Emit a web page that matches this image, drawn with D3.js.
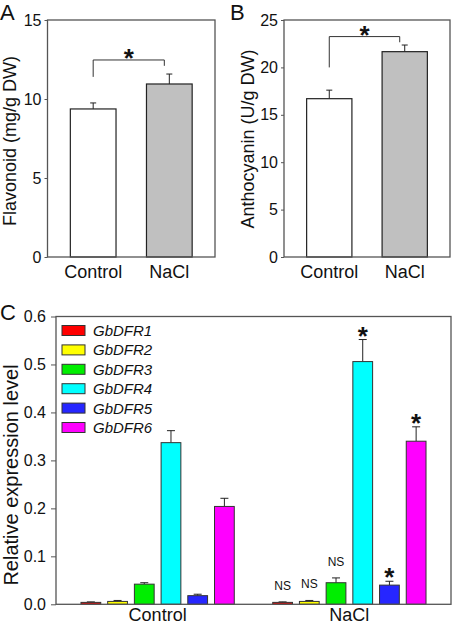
<!DOCTYPE html>
<html>
<head>
<meta charset="utf-8">
<script src="https://cdn.jsdelivr.net/npm/d3@7"></script>
<style>
  body { margin: 0; background: #fff; }
  text { font-family: "Liberation Sans", Arial, sans-serif; fill: #111; }
</style>
</head>
<body>
<div id="wrapper"></div>
<script>
// data
const treatments = ["Control", "NaCl"];

const flavonoidMeans = [9.37, 10.95];
const flavonoidErrors = [0.38, 0.63];
const flavonoidTicks = [0, 5, 10, 15];
// left leg end, bracket top, right leg end (in mg/g DW)
const flavonoidBracket = [11.4, 12.47, 12.1];

const anthocyaninMeans = [16.7, 21.66];
const anthocyaninErrors = [0.9, 0.7];
const anthocyaninTicks = [0, 5, 10, 15, 20, 25];
const anthocyaninBracket = [20.0, 23.25, 22.65];

const genes = ["GbDFR1", "GbDFR2", "GbDFR3", "GbDFR4", "GbDFR5", "GbDFR6"];
const controlExpr = [0.004, 0.006, 0.042, 0.337, 0.018, 0.204];
const controlErr  = [0.001, 0.002, 0.003, 0.025, 0.003, 0.017];
const naclExpr    = [0.004, 0.006, 0.045, 0.506, 0.040, 0.340];
const naclErr     = [0.001, 0.002, 0.010, 0.046, 0.008, 0.030];
const naclMarks   = ["NS", "NS", "NS", "*", "*", "*"];
const exprTicks   = [0, 0.1, 0.2, 0.3, 0.4, 0.5, 0.6];

// styles
const geneColors = ["#ff0000", "#ffff00", "#00ee00", "#00ffff", "#2626ff", "#ff00ff"];
const barFills = ["#ffffff", "#c0c0c0"];

const svg = d3.select("#wrapper")
  .append("svg")
  .attr("width", 452)
  .attr("height", 625);

// panels A and B share a layout
const drawSimplePanel = (opts) => {
  const dims = opts.dims;
  const g = svg.append("g")
    .attr("transform", `translate(${dims.left},${dims.top})`);
  const w = dims.right - dims.left;
  const h = dims.bottom - dims.top;

  const xScale = d3.scaleBand()
    .domain(treatments)
    .range([0, w])
    .paddingInner(0.4)
    .paddingOuter(0.3);

  const yScale = d3.scaleLinear()
    .domain([0, d3.max(opts.ticks)])
    .range([h, 0]);

  const data = treatments.map((t, i) => ({ t, v: opts.means[i], e: opts.errors[i], i }));

  // error bars (upper only)
  const err = g.append("g").selectAll("g").data(data).join("g");
  err.append("line")
    .attr("x1", d => xScale(d.t) + xScale.bandwidth() / 2)
    .attr("x2", d => xScale(d.t) + xScale.bandwidth() / 2)
    .attr("y1", d => yScale(d.v))
    .attr("y2", d => yScale(d.v + d.e))
    .attr("stroke", "#222");
  err.append("line")
    .attr("x1", d => xScale(d.t) + xScale.bandwidth() / 2 - 3)
    .attr("x2", d => xScale(d.t) + xScale.bandwidth() / 2 + 3)
    .attr("y1", d => yScale(d.v + d.e))
    .attr("y2", d => yScale(d.v + d.e))
    .attr("stroke", "#222");

  g.append("g").selectAll("rect")
    .data(data)
    .join("rect")
    .attr("x", d => xScale(d.t))
    .attr("y", d => yScale(d.v))
    .attr("width", xScale.bandwidth())
    .attr("height", d => h - yScale(d.v))
    .attr("fill", d => barFills[d.i])
    .attr("stroke", "#222")
    .attr("stroke-width", 1.2);

  // significance bracket
  const cx0 = xScale(treatments[0]) + xScale.bandwidth() / 2;
  const cx1 = xScale(treatments[1]) + xScale.bandwidth() / 2 - 5;
  const b = opts.bracket;
  g.append("path")
    .attr("d", `M${cx0},${yScale(b[0])}V${yScale(b[1])}H${cx1}V${yScale(b[2])}`)
    .attr("fill", "none")
    .attr("stroke", "#333");
  g.append("text")
    .attr("x", (cx0 + cx1) / 2)
    .attr("y", yScale(b[1]) + 7)
    .attr("text-anchor", "middle")
    .style("font-size", "26px")
    .style("font-weight", "bold")
    .text("*");

  // frame
  g.append("rect")
    .attr("width", w)
    .attr("height", h)
    .attr("fill", "none")
    .attr("stroke", "#555")
    .attr("stroke-width", 1.3);

  const yAxis = g.append("g")
    .call(d3.axisLeft(yScale).tickValues(opts.ticks).tickSize(3).tickPadding(3));
  yAxis.select(".domain").remove();
  yAxis.selectAll("line").attr("stroke", "#555");
  yAxis.selectAll("text")
    .style("font-size", "16px")
    .style("font-family", "Liberation Sans, Arial, sans-serif")
    .attr("fill", "#111");

  g.append("g").selectAll("text")
    .data(treatments)
    .join("text")
    .attr("x", d => xScale(d) + xScale.bandwidth() / 2)
    .attr("y", h + 21)
    .attr("text-anchor", "middle")
    .style("font-size", "18px")
    .text(d => d);

  svg.append("text")
    .attr("transform", `translate(${opts.labelX},${opts.labelY}) rotate(-90)`)
    .attr("text-anchor", "middle")
    .style("font-size", "18px")
    .text(opts.title);

  svg.append("text")
    .attr("x", opts.letterX)
    .attr("y", 20)
    .style("font-size", "22px")
    .text(opts.letter);
};

drawSimplePanel({
  dims: { left: 47.5, top: 20, right: 215, bottom: 257 },
  means: flavonoidMeans, errors: flavonoidErrors, ticks: flavonoidTicks,
  bracket: flavonoidBracket,
  title: "Flavonoid (mg/g DW)", labelX: 16, labelY: 141,
  letter: "A", letterX: 0
});

drawSimplePanel({
  dims: { left: 284, top: 20, right: 450, bottom: 257 },
  means: anthocyaninMeans, errors: anthocyaninErrors, ticks: anthocyaninTicks,
  bracket: anthocyaninBracket,
  title: "Anthocyanin (U/g DW)", labelX: 254, labelY: 139,
  letter: "B", letterX: 230
});

// panel C
const dimsC = { left: 56, top: 316.5, right: 451, bottom: 604.3 };
const wC = dimsC.right - dimsC.left;
const hC = dimsC.bottom - dimsC.top;
const gC = svg.append("g").attr("transform", `translate(${dimsC.left},${dimsC.top})`);

const groupScale = d3.scaleBand()
  .domain(treatments)
  .range([0, wC])
  .paddingInner(0)
  .paddingOuter(0.03);

const geneScale = d3.scaleBand()
  .domain(genes)
  .range([0, groupScale.bandwidth()])
  .paddingInner(0.26)
  .paddingOuter(0.72);

const yC = d3.scaleLinear().domain([0, 0.6]).range([hC, 0]);

const exprData = [];
genes.forEach((gene, i) => {
  exprData.push({ group: "Control", gene, i, v: controlExpr[i], e: controlErr[i], mark: null });
  exprData.push({ group: "NaCl", gene, i, v: naclExpr[i], e: naclErr[i], mark: naclMarks[i] });
});
const barX = d => groupScale(d.group) + geneScale(d.gene);
const barMid = d => barX(d) + geneScale.bandwidth() / 2;

const errC = gC.append("g").selectAll("g").data(exprData).join("g");
errC.append("line")
  .attr("x1", barMid).attr("x2", barMid)
  .attr("y1", d => yC(d.v)).attr("y2", d => yC(d.v + d.e))
  .attr("stroke", "#222");
errC.append("line")
  .attr("x1", d => barMid(d) - 4).attr("x2", d => barMid(d) + 4)
  .attr("y1", d => yC(d.v + d.e)).attr("y2", d => yC(d.v + d.e))
  .attr("stroke", "#222");

gC.append("g").selectAll("rect")
  .data(exprData)
  .join("rect")
  .attr("x", barX)
  .attr("y", d => yC(d.v))
  .attr("width", geneScale.bandwidth())
  .attr("height", d => hC - yC(d.v))
  .attr("fill", d => geneColors[d.i])
  .attr("stroke", "#333")
  .attr("stroke-width", 1);

// NS / * marks over NaCl bars
gC.append("g").selectAll("text")
  .data(exprData.filter(d => d.mark))
  .join("text")
  .attr("x", barMid)
  .attr("y", d => d.mark === "*" ? yC(d.v + d.e) + 5 : yC(d.v + d.e) - 12)
  .attr("text-anchor", "middle")
  .style("font-size", d => d.mark === "*" ? "26px" : "12px")
  .style("font-weight", d => d.mark === "*" ? "bold" : "normal")
  .text(d => d.mark);

gC.append("rect")
  .attr("width", wC)
  .attr("height", hC)
  .attr("fill", "none")
  .attr("stroke", "#555")
  .attr("stroke-width", 1.3);

const yAxisC = gC.append("g")
  .call(d3.axisLeft(yC).tickValues(exprTicks).tickFormat(d3.format(".1f")).tickSize(5).tickPadding(5));
yAxisC.select(".domain").remove();
yAxisC.selectAll("line").attr("stroke", "#555");
yAxisC.selectAll("text")
  .style("font-size", "16px")
  .style("font-family", "Liberation Sans, Arial, sans-serif")
  .attr("fill", "#111");

gC.append("g").selectAll("text")
  .data(treatments)
  .join("text")
  .attr("x", d => groupScale(d) + groupScale.bandwidth() / 2)
  .attr("y", hC + 17)
  .attr("text-anchor", "middle")
  .style("font-size", "18px")
  .text(d => d);

// legend
const legend = gC.append("g").selectAll("g")
  .data(genes)
  .join("g")
  .attr("transform", (d, i) => `translate(6,${9 + i * 19.4})`);
legend.append("rect")
  .attr("width", 23)
  .attr("height", 10)
  .attr("fill", (d, i) => geneColors[i])
  .attr("stroke", "#333");
legend.append("text")
  .attr("x", 31)
  .attr("y", 10.5)
  .style("font-size", "15px")
  .style("font-style", "italic")
  .text(d => d);

svg.append("text")
  .attr("transform", "translate(18,475) rotate(-90)")
  .attr("text-anchor", "middle")
  .style("font-size", "20px")
  .text("Relative expression level");

svg.append("text")
  .attr("x", 0)
  .attr("y", 320)
  .style("font-size", "22px")
  .text("C");
</script>
</body>
</html>
